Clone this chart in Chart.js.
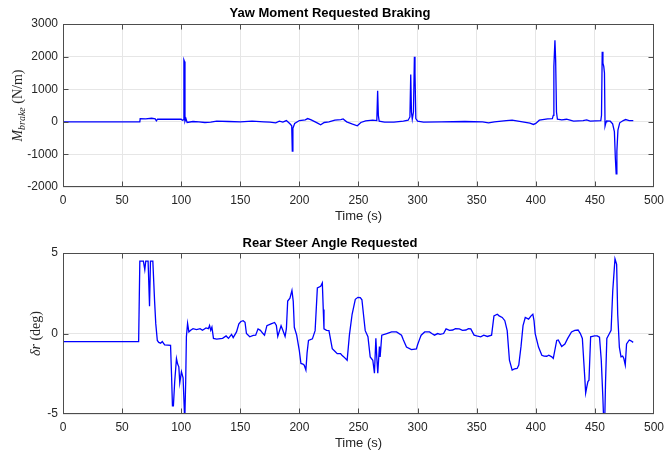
<!DOCTYPE html>
<html>
<head>
<meta charset="utf-8">
<script src="https://cdn.jsdelivr.net/npm/chart.js@4.4.1/dist/chart.umd.min.js"></script>
<style>
  body { margin: 0; background: #fff; }
  #wrap { position: relative; width: 670px; height: 454px; }
  canvas { position: absolute; left: 0; }
</style>
</head>
<body>
<div id="wrap">
  <canvas id="brakeChart" width="670" height="227" style="top:0"></canvas>
  <canvas id="steerChart" width="670" height="227" style="top:227px"></canvas>
</div>
<script>
// ---- data ----
const xTicks = [0, 50, 100, 150, 200, 250, 300, 350, 400, 450, 500];
const brakeTicks = [-2000, -1000, 0, 1000, 2000, 3000];
const steerTicks = [-5, 0, 5];

// Yaw Moment Requested Braking (time s, N/m)
const brakeTime = [0, 65, 65.3, 70, 75, 78, 79, 80, 90, 100, 101, 101.8, 102.3, 102.8, 103.2, 104, 105, 110, 115, 120,
  125, 130, 140, 150, 160, 170, 175, 180, 183, 186, 189, 192, 193.5, 194, 194.5, 196, 200, 205, 207, 210,
  215, 218, 221, 225, 230, 235, 237, 240, 245, 249, 252, 256, 262, 265.5, 266.2, 266.8, 267.5, 272, 280, 288,
  292, 293.5, 294.2, 294.8, 295.5, 296.5, 297.3, 297.8, 298.5, 300, 305, 320, 340, 355, 360, 365, 375, 380, 385, 395,
  398, 400, 403, 410, 414, 414.8, 415.3, 416.2, 416.8, 417.5, 418.3, 422, 426, 432, 440, 443, 446, 455, 455.6, 456.2,
  456.8, 457.5, 458.1, 458.6, 459.5, 460, 463, 465, 466.5, 467.3, 468, 468.6, 469.5, 471, 474, 476, 479, 482.5];
const brakeVal = [0, 0, 100, 90, 110, 90, 30, 80, 85, 80, 50, 60, 1900, 1850, 20, 100, -20, 10, 0, -20,
  -10, 20, 10, 0, 20, 0, -10, -30, 20, -10, 40, -60, -120, -900, -200, -50, 40, 60, 100, 60,
  -30, -90, -20, 0, 50, 70, 90, 0, -70, -120, -20, 30, 50, 40, 950, 200, 20, -10, -10, 20,
  50, 150, 1450, 300, 80, 300, 2000, 1500, 100, 20, -10, 0, 10, 0, -30, 0, 40, 50, 20, -40,
  -80, -50, 50, 90, 100, 200, 1700, 2500, 1900, 300, 80, 60, 80, 20, 40, 60, 20, 40, 200, 2150,
  1800, 1700, 1500, -130, 0, 30, 20, -60, -300, -1100, -1600, -900, -250, -30, 40, 70, 40, 40];

// Rear Steer Angle Requested (time s, deg)
const steerTime = [0, 64, 65, 68, 69.2, 70, 72, 73.2, 74, 76, 77.5, 78.5, 79.8, 81, 82.6, 84, 86, 91, 91.8, 92.6,
  93.4, 94.5, 96, 97, 98, 98.8, 100.2, 101.6, 102.5, 103, 103.8, 104.4, 105.4, 106.5, 108, 110, 113, 116, 118, 121,
  123, 124, 125, 126, 127.3, 130, 135, 138, 140, 142.6, 144, 146.8, 148.8, 150.5, 152.4, 154, 155.2, 158, 161, 163,
  165, 167, 169.2, 170.5, 172.5, 176, 179, 180.5, 181.7, 184.5, 186, 187.9, 189, 190.1, 192, 193.7, 194.8, 195.7, 197.7, 199.9,
  201.3, 203, 204.1, 205.5, 206.5, 207.7, 211, 213.3, 215.2, 218, 219.4, 220.2, 220.8, 223, 225, 227.8, 230, 232, 234.8, 236,
  237.6, 240.4, 242.3, 244.6, 247.3, 249.5, 251.5, 252.9, 254.5, 255.7, 258, 259.9, 262.1, 263.5, 264.7, 265.5, 266.3, 267.7, 268.3, 269.7,
  273.9, 278, 282.2, 286.4, 288, 290.6, 294.8, 299, 300, 301.8, 303, 306, 310.1, 312, 314.3, 317, 319, 322, 324.1, 327,
  329.7, 332, 335.3, 338, 340.9, 343, 345, 347.8, 350, 353.4, 356, 359, 362.6, 364.6, 367.4, 369, 371.6, 373.8, 375.8, 377.7,
  380, 382, 384.2, 385.6, 387.5, 389.2, 391.1, 393.9, 396, 397.5, 398.5, 399.5, 402.3, 405.1, 407, 409.3, 411, 413.5, 414.8, 417.7,
  419, 421.9, 424.6, 427, 430.2, 433, 435.8, 437.7, 439.4, 441.4, 442.2, 443.2, 444.1, 445, 446.4, 449.7, 452, 453.9, 455.4, 456.7,
  457.5, 458.3, 459, 460.1, 462.3, 463.7, 465.1, 467, 468.4, 469.3, 470.7, 472.1, 473.5, 474.5, 475.7, 476.8, 479.1, 480.5, 482.4];
const steerVal = [-0.5, -0.5, 4.5, 4.5, 3.97, 4.5, 4.5, 1.7, 4.5, 4.5, 2, 0.6, -0.43, -0.55, -0.6, -0.5, -0.7, -0.74, -2.5, -4.5,
  -4.5, -3, -1.55, -1.9, -2.07, -3.07, -2.37, -2.76, -4.5, -5.5, -3, -0.2, 0.63, 0.1, 0.2, 0.3, 0.25, 0.3, 0.2, 0.35,
  0.3, 0.5, 0.2, 0.4, -0.3, -0.35, -0.3, -0.15, -0.3, -0.05, -0.25, 0.1, 0.6, 0.75, 0.8, 0.7, 0, -0.2, -0.12, -0.1,
  0.29, 0.2, 0, -0.1, 0.49, 0.6, 0.69, 0.5, -0.18, 0.49, 0.2, -0.18, 0.3, 2.02, 2.2, 2.68, 2.0, 0.39, -0.1, -1.04,
  -1.86, -1.9, -1.97, -2.27, -1.2, -0.43, -0.33, 0.18, 2.84, 2.94, 3.15, 1.5, 0.29, 0.2, 0.18, -0.94, -1.1, -1.25, -1.25, -1.35,
  -1.45, -1.66, -0.1, 1.2, 2.13, 2.25, 2.23, 2.1, 1, 0.18, -0.2, -1.45, -1.66, -2.47, -0.3, -1.5, -2.47, -0.8, -1.45, -0.1,
  0, 0.1, 0.1, -0.1, -0.4, -0.84, -1.0, -0.96, -0.7, -0.33, -0.1, 0.1, 0.1, 0, -0.1, 0, -0.05, 0, 0.29, 0.2,
  0.22, 0.3, 0.29, 0.2, 0.22, 0.3, 0.29, -0.1, -0.15, -0.2, -0.1, -0.18, -0.1, 1.1, 1.2, 1.1, 1.0, 0.8, 0.18, -1.66,
  -2.27, -2.2, -2.17, -1.96, -0.8, 0.49, 1.0, 0.9, 1.1, 1.2, 0.8, 0, -0.84, -1.35, -1.4, -1.41, -1.35, -1.45, -1.55, -0.43,
  -0.4, -0.8, -0.65, -0.3, 0.1, 0.2, 0.22, 0, -0.3, -2.68, -3.7, -3.3, -2.98, -2.9, -0.2, -0.15, -0.15, -0.23, -1.66, -3.9,
  -5.5, -5.5, -3.05, -0.3, 0, 0.2, 2.64, 4.64, 4.3, 1.2, -0.84, -1.45, -1.4, -1.55, -1.96, -0.65, -0.4, -0.45, -0.55];

// ---- MATLAB風の枠、内向き目盛り、Y軸ラベル ----
const matlabFrame = {
  id: 'matlabFrame',
  afterDraw(chart, args, opts) {
    const ctx = chart.ctx;
    const a = chart.chartArea;
    const L = Math.round(a.left) + 0.5, R = Math.round(a.right) - 0.5;
    const T = Math.round(a.top) + 0.5, B = Math.round(a.bottom) - 0.5;
    const clamp = (v, lo, hi) => Math.min(hi, Math.max(lo, v));
    ctx.save();
    ctx.strokeStyle = '#4d4d4d';
    ctx.lineWidth = 1;
    ctx.strokeRect(L, T, R - L, B - T);
    ctx.beginPath();
    chart.scales.x.ticks.forEach(t => {
      const px = clamp(Math.round(chart.scales.x.getPixelForValue(t.value)) + 0.5, L, R);
      ctx.moveTo(px, B); ctx.lineTo(px, B - 5);
      ctx.moveTo(px, T); ctx.lineTo(px, T + 5);
    });
    chart.scales.y.ticks.forEach(t => {
      const py = clamp(Math.round(chart.scales.y.getPixelForValue(t.value)) + 0.5, T, B);
      ctx.moveTo(L, py); ctx.lineTo(L + 5, py);
      ctx.moveTo(R, py); ctx.lineTo(R - 5, py);
    });
    ctx.stroke();

    // y label (rotated, LaTeX-like)
    const parts = opts.parts;
    ctx.translate(opts.x, (a.top + a.bottom) / 2);
    ctx.rotate(-Math.PI / 2);
    ctx.fillStyle = '#262626';
    ctx.textBaseline = 'alphabetic';
    let w = 0;
    parts.forEach(p => {
      ctx.font = (p.italic ? 'italic ' : '') + p.size + 'px "Liberation Serif"';
      p.w = ctx.measureText(p.t).width;
      w += p.w;
    });
    let cx = -w / 2;
    parts.forEach(p => {
      ctx.font = (p.italic ? 'italic ' : '') + p.size + 'px "Liberation Serif"';
      ctx.fillText(p.t, cx, 5 + (p.dy || 0));
      cx += p.w;
    });
    ctx.restore();
  }
};

const tickFont = { family: 'Liberation Sans', size: 12 };

function makeChart(id, title, titlePad, xs, ys, yTicks, yMin, yMax, labelParts, labelX) {
  const points = xs.map((t, i) => ({ x: t, y: ys[i] }));
  return new Chart(document.getElementById(id).getContext('2d'), {
    type: 'line',
    data: {
      datasets: [{
        data: points,
        borderColor: '#0000ff',
        borderWidth: 1.3,
        pointRadius: 0,
        tension: 0,
        fill: false
      }]
    },
    plugins: [matlabFrame],
    options: {
      responsive: false,
      animation: false,
      layout: { padding: { left: 0, right: 10, top: 0, bottom: 0 } },
      plugins: {
        legend: { display: false },
        tooltip: { enabled: false },
        title: {
          display: true,
          text: title,
          color: '#000',
          font: { family: 'Liberation Sans', size: 13, weight: 'bold' },
          padding: titlePad
        },
        matlabFrame: { parts: labelParts, x: labelX }
      },
      scales: {
        x: {
          type: 'linear',
          min: 0, max: 500,
          afterBuildTicks: s => { s.ticks = xTicks.map(v => ({ value: v })); },
          afterFit: s => { s.height = 40; },
          ticks: { font: tickFont, color: '#262626', padding: 6, maxRotation: 0, callback: v => String(v) },
          grid: { color: '#e6e6e6', drawTicks: false },
          border: { display: false },
          title: {
            display: true,
            text: 'Time (s)',
            color: '#262626',
            font: { family: 'Liberation Sans', size: 13 },
            padding: { top: 0, bottom: 3 }
          }
        },
        y: {
          min: yMin, max: yMax,
          afterBuildTicks: s => { s.ticks = yTicks.map(v => ({ value: v })); },
          afterFit: s => { s.width = 63; },
          ticks: { font: tickFont, color: '#262626', padding: 5, callback: v => String(v) },
          grid: { color: '#e6e6e6', drawTicks: false },
          border: { display: false }
        }
      }
    }
  });
}

makeChart('brakeChart', 'Yaw Moment Requested Braking', { top: 5.5, bottom: 3 },
  brakeTime, brakeVal, brakeTicks, -2000, 3000,
  [{ t: 'M', italic: true, size: 14 }, { t: 'brake', italic: true, size: 10, dy: 3 }, { t: ' (N/m)', size: 14 }], 17);

makeChart('steerChart', 'Rear Steer Angle Requested', { top: 8.5, bottom: 2 },
  steerTime, steerVal, steerTicks, -5, 5,
  [{ t: 'δr', italic: true, size: 14 }, { t: ' (deg)', size: 14 }], 35);
</script>
</body>
</html>
